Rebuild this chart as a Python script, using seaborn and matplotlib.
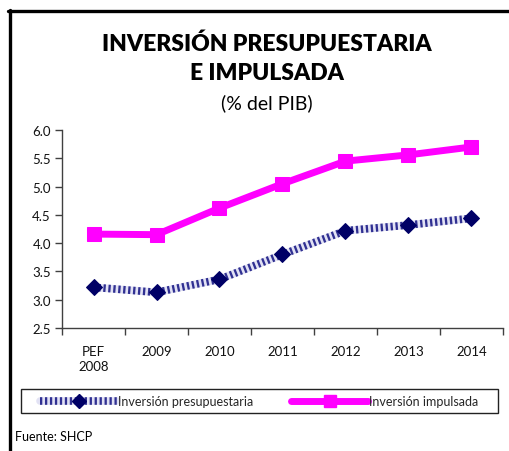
import matplotlib
matplotlib.use("Agg")
import matplotlib.pyplot as plt
from matplotlib.lines import Line2D
from matplotlib.patches import Rectangle
from matplotlib.legend_handler import HandlerTuple
from matplotlib.ticker import FixedLocator
import numpy as np
import pandas as pd
import seaborn as sns

periodos = ["PEF\n2008", "2009", "2010", "2011", "2012", "2013", "2014"]
presupuestaria = [3.22, 3.13, 3.36, 3.80, 4.22, 4.32, 4.44]
impulsada = [4.16, 4.15, 4.62, 5.05, 5.45, 5.56, 5.70]
y_ticks = [2.5, 3.0, 3.5, 4.0, 4.5, 5.0, 5.5, 6.0]

sns.set_style("white")
plt.rcParams["font.family"] = ["Lato", "DejaVu Sans"]

W, H = 509, 452
fig = plt.figure(figsize=(W / 100, H / 100), dpi=100)
ax = fig.add_axes([62 / W, 1 - 329 / H, (503 - 62) / W, (329 - 131) / H])

df = pd.DataFrame({"pos": np.arange(len(periodos)),
                   "presupuestaria": presupuestaria,
                   "impulsada": impulsada})

MAGENTA = "#ff00ff"
NAVY = "#000066"
BAND_LIGHT = "#e2e2f4"
BAND_DARK = "#303092"
BAND_DASH = (0, (0.3, 0.35))

# budget investment: textured band (light base + fine navy dashes)
sns.lineplot(data=df, x="pos", y="presupuestaria", ax=ax, color=BAND_LIGHT,
             linewidth=5.5, zorder=2)
sns.lineplot(data=df, x="pos", y="presupuestaria", ax=ax, color=BAND_DARK,
             linewidth=5.5, linestyle=BAND_DASH, zorder=3)
sns.lineplot(data=df, x="pos", y="presupuestaria", ax=ax, color=NAVY,
             linewidth=0, marker="D", markersize=8, markeredgecolor=NAVY,
             zorder=4)
# leveraged investment
sns.lineplot(data=df, x="pos", y="impulsada", ax=ax, color=MAGENTA,
             linewidth=5, marker="s", markersize=10, markeredgecolor=MAGENTA,
             zorder=4)

ax.set_xlim(-0.5, len(periodos) - 0.5)
ax.set_ylim(2.5, 6.0)
ax.set_xlabel("")
ax.set_ylabel("")
ax.set_yticks(y_ticks)
ax.set_yticklabels([f"{v:.1f}" for v in y_ticks])
ax.set_xticks(np.arange(len(periodos)))
ax.set_xticklabels(periodos, linespacing=1.3)
ax.xaxis.set_minor_locator(FixedLocator(np.arange(-0.5, len(periodos), 1.0)))

for side in ["top", "right"]:
    ax.spines[side].set_visible(False)
for side in ["left", "bottom"]:
    ax.spines[side].set_color("#404040")
    ax.spines[side].set_linewidth(1.0)

ax.tick_params(axis="y", which="major", direction="out", length=5, width=1,
               color="#404040", labelsize=9.5, pad=3, left=True)
ax.tick_params(axis="x", which="major", length=0, labelsize=9.5, pad=12)
ax.tick_params(axis="x", which="minor", direction="out", length=5, width=1,
               color="#404040", bottom=True)
for lab in ax.get_xticklabels() + ax.get_yticklabels():
    lab.set_color("#111111")

# titles
fig.text(267 / W, 1 - 44 / H, "INVERSIÓN PRESUPUESTARIA", ha="center",
         va="center", fontsize=16.5, fontweight="heavy", color="black")
fig.text(267 / W, 1 - 74 / H, "E IMPULSADA", ha="center", va="center",
         fontsize=16.5, fontweight="heavy", color="black")
fig.text(267 / W, 1 - 103 / H, "(% del PIB)", ha="center", va="center",
         fontsize=14, color="black")

# legend box and entries
fig.add_artist(Rectangle((21 / W, 1 - 414 / H), 477 / W, 24 / H,
                         transform=fig.transFigure, fill=False,
                         edgecolor="#222222", linewidth=1.0))
h1 = (Line2D([], [], color=BAND_LIGHT, linewidth=5.5),
      Line2D([], [], color=BAND_DARK, linewidth=5.5, linestyle=BAND_DASH),
      Line2D([], [], color=NAVY, linewidth=0, marker="D", markersize=7))
h2 = Line2D([], [], color=MAGENTA, linewidth=5, marker="s", markersize=9)
leg = fig.legend([h1, h2], ["Inversión presupuestaria", "Inversión impulsada"],
                 loc="center", bbox_to_anchor=(259 / W, 1 - 402 / H),
                 ncol=2, frameon=False, fontsize=9,
                 handlelength=6.2, handletextpad=0.05, columnspacing=3.0,
                 borderpad=0.2, borderaxespad=0,
                 handler_map={tuple: HandlerTuple(ndivide=1, pad=0)})

fig.text(15 / W, 1 - 437 / H, "Fuente: SHCP", ha="left", va="center",
         fontsize=9, color="black")

# outer frame lines (top and left)
fig.add_artist(Line2D([9.5 / W, 9.5 / W], [0, 1 - 11 / H], color="black",
                      linewidth=2.4, transform=fig.transFigure))
fig.add_artist(Line2D([8.3 / W, 1], [1 - 12 / H, 1 - 12 / H], color="black",
                      linewidth=2.4, transform=fig.transFigure))

fig.savefig("out.png", dpi=100, facecolor="white")
